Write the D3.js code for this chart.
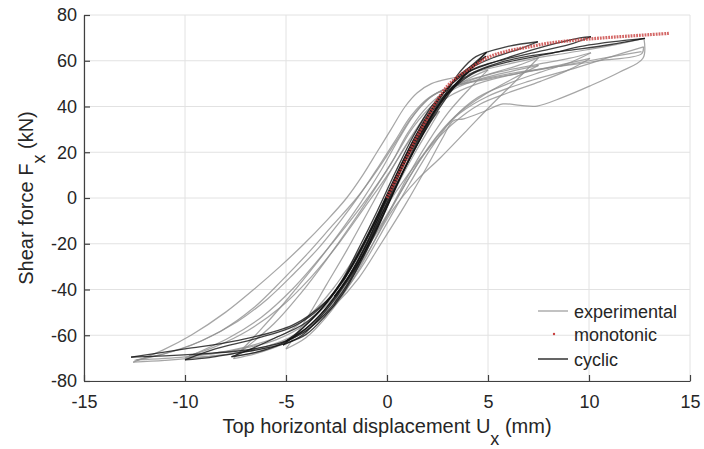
<!DOCTYPE html>
<meta charset="utf-8">
<style>
body{margin:0;background:#fff;}
text{font-family:"Liberation Sans",Arial,sans-serif;fill:#262626;}
.grid line{stroke:#e2e2e2;stroke-width:1;}
.axis path,.axis line{stroke:#404040;stroke-width:1.2;}
.axis text{font-size:18px;fill:#262626;}
.exp{fill:none;stroke:#909090;stroke-width:1.25;stroke-opacity:0.8;}
.cyc{fill:none;stroke:#111;stroke-width:1.3;stroke-opacity:0.8;}
.mono{fill:none;stroke:#c8403f;stroke-width:3.2;stroke-dasharray:1.8,1;stroke-opacity:0.8;}
</style>
<body>
<script src="https://cdn.jsdelivr.net/npm/d3@7"></script>
<script>

var xTicks=[-15,-10,-5,0,5,10,15];
var yTicks=[-80,-60,-40,-20,0,20,40,60,80];

// experimental loops (grey), [U mm, F kN]
var exp12Up=[[-12.57,-71.8],[-11,-71],[-9,-69.5],[-7,-67],[-5.2,-62.5],[-3.8,-56],[-2.6,-47],[-1.4,-35],[-0.3,-20],[0.9,-3],[2,14],[2.8,27],[3.27,33.7],[3.8,34.6],[4.8,37.8],[5.74,41.1],[6.6,40.5],[7.43,40.2],[8.7,44],[10.05,49],[11.5,55],[12.67,61.1],[12.72,69.8]];
var exp12Down=[[12.72,69.8],[11,66.5],[9,63.5],[7,60.5],[5,56.5],[3.5,53],[2.2,50],[1.5,46],[0.9,40],[0.2,30],[-0.5,20],[-1.2,10],[-2,0],[-3,-10],[-4.1,-20],[-5.3,-30],[-6.6,-40],[-8,-50],[-9.7,-60],[-11.1,-66.5],[-12.57,-71.8]];
var exp12bUp=[[-12.4,-70.8],[-10,-69.5],[-7.5,-66.5],[-5.5,-62],[-4,-55],[-2.8,-45],[-1.7,-32],[-0.6,-16],[0.5,0],[1.6,16],[2.6,28],[3.6,37],[5,44.5],[7,51],[9,56],[11,61.5],[12.7,66.1]];
var exp12bDown=[[12.7,66.1],[12.6,63],[10.5,60],[8.5,57.5],[6.5,55],[4.5,51.5],[3,48],[2,43],[1.2,35],[0.4,24],[-0.5,12],[-1.5,0],[-2.7,-12],[-3.9,-24],[-5.2,-36],[-6.6,-48],[-8.2,-58],[-10.2,-66],[-12.4,-70.8]];
var exp12cDown=[[12.6,64],[10,60],[7.5,56],[5,52],[3.2,48.5],[2.1,44],[1.2,36],[0.4,25],[-0.4,14],[-1.3,2],[-2.3,-10],[-3.4,-22],[-4.6,-33],[-5.9,-44],[-7.4,-54],[-9.2,-62.5],[-11,-68],[-12.5,-71]];
var exp10Up=[[-10,-70],[-8,-68.5],[-6,-65.5],[-4.5,-60.5],[-3.3,-53],[-2.2,-42],[-1.1,-28],[0,-11],[1.1,6],[2.2,22],[3.3,35],[4.5,44],[6,50],[7.6,55],[9,59],[10.1,63.5]];
var exp10Down=[[10.1,63.5],[9,61],[7.5,58.5],[5.5,55],[4,51],[2.8,46],[1.8,38],[1,28],[0.2,15],[-0.8,2],[-2,-12],[-3.3,-26],[-4.7,-40],[-6.2,-52],[-7.8,-61],[-10,-70]];
var exp10bUp=[[-9.8,-69],[-8,-67],[-6.5,-64],[-5,-59],[-3.8,-51],[-2.7,-40],[-1.6,-26],[-0.5,-10],[0.7,6],[1.9,20],[3.2,32],[4.6,41],[6,46],[7.6,51],[9,56],[10.05,61]];
var exp10bDown=[[10.05,61],[8.5,58],[6.5,54.5],[4.5,50],[3,44],[2,36],[1.1,25],[0.1,11],[-1.1,-4],[-2.4,-20],[-3.8,-35],[-5.3,-48],[-6.9,-58],[-8.5,-65],[-9.8,-69]];
var exp7Up=[[-7.6,-70.2],[-6.5,-68],[-5.2,-64],[-4,-57.5],[-2.9,-48],[-1.9,-37],[-0.9,-23],[0.3,-5],[1.5,8],[2.62,17.4],[4,30],[5.2,41],[6.42,51.6],[7.5,61.3]];
var exp7Down=[[7.5,61.3],[6.5,58],[5,54],[3.5,50],[2.3,45],[1.4,37],[0.6,26],[-0.3,12],[-1.3,-2],[-2.5,-17],[-3.8,-32],[-5.1,-46],[-6.3,-58],[-7.6,-70.2]];
var exp7bUp=[[-7.5,-69],[-6,-66.5],[-4.6,-61],[-3.4,-52],[-2.3,-40],[-1.2,-25],[0,-8],[1.1,9],[2.2,24],[3.4,36],[4.8,45],[6.2,52],[7.5,58]];
var exp7bDown=[[7.5,58],[6.2,55.5],[4.8,52.5],[3.4,48],[2.3,41],[1.3,31],[0.4,18],[-0.6,4],[-1.8,-12],[-3,-27],[-4.3,-42],[-5.6,-55],[-7.5,-69]];
var exp5Up=[[-5,-66],[-4,-61],[-3,-52],[-2,-40],[-1,-25],[0,-8],[1,9],[2,24],[3,37],[4,47],[5,56]];
var exp5Down=[[5,56],[4,52],[3,46],[2,37],[1,24],[0,9],[-1,-7],[-2,-23],[-3,-38],[-4,-53],[-5,-66]];
var exp2Up=[[-2.6,-46],[-1.8,-36],[-1,-23],[-0.2,-8],[0.6,7],[1.4,20],[2,29],[2.6,38]];
var exp2Down=[[2.6,38],[1.8,30],[1,19],[0.2,5],[-0.6,-10],[-1.4,-24],[-2,-34],[-2.6,-46]];

// cyclic model loops (black)
var cyc2Up=[[-2.6,-43],[-1.8,-33],[-1,-20],[-0.2,-4],[0.6,11],[1.4,24],[2,33],[2.5,40]];
var cyc2Down=[[2.5,40],[1.7,29],[0.9,16],[0.1,1],[-0.7,-14],[-1.5,-28],[-2.1,-37],[-2.6,-43]];
var cyc5Up=[[-5.15,-64.3],[-4.2,-60],[-3.3,-52],[-2.4,-42],[-1.5,-30],[-0.6,-15],[0.2,0],[1,15],[1.8,28],[2.5,38],[3.2,47],[4,55],[4.93,63.7]];
var cyc5Down=[[4.93,63.7],[4.2,58],[3.5,53],[2.7,45],[1.8,33],[0.9,18],[0,1],[-0.8,-14],[-1.7,-29],[-2.6,-41],[-3.5,-51],[-4.3,-58],[-5.15,-64.3]];
var cyc5bUp=[[-5,-62.5],[-4,-57],[-3,-48],[-2,-36],[-1.1,-22],[-0.2,-6],[0.7,10],[1.6,25],[2.5,39],[3.3,49],[4.1,56],[4.9,62]];
var cyc5bDown=[[4.9,62],[4,56.5],[3.1,49],[2.2,38],[1.3,24],[0.4,8],[-0.5,-9],[-1.4,-25],[-2.3,-38],[-3.3,-49],[-4.2,-57],[-5,-62.5]];
var cyc7Up=[[-7.7,-69.4],[-6.5,-67.5],[-5.3,-64],[-4.3,-59],[-3.3,-51],[-2.4,-41],[-1.4,-28],[-0.4,-11],[0.5,6],[1.4,22],[2.3,37],[3,47],[3.6,55],[4.4,61.8],[5.9,66.1],[7.47,68.3]];
var cyc7Down=[[7.47,68.3],[6.5,65],[5.3,61.5],[4.2,57],[3.2,50],[2.3,40],[1.4,27],[0.5,11],[-0.4,-6],[-1.3,-22],[-2.2,-36],[-3.1,-47],[-4.1,-55],[-5.5,-61],[-6.6,-65.5],[-7.7,-69.4]];
var cyc10Up=[[-10,-70.8],[-8.8,-69.8],[-7.6,-68],[-6.2,-66],[-5,-63.5],[-4,-59.6],[-3.1,-52],[-2.2,-42],[-1.3,-28],[-0.4,-12],[0.5,6],[1.4,23],[2.3,37],[3.2,48],[4.2,56],[5.5,60],[7.5,65.5],[9.55,70],[10.1,70.5]];
var cyc10Down=[[10.1,70.5],[9,67],[7.5,64],[6,61],[5,58.5],[4,55],[3.1,49],[2.2,40],[1.3,27],[0.4,11],[-0.5,-6],[-1.4,-22],[-2.3,-37],[-3.3,-48],[-4.6,-56],[-6.5,-61.5],[-8.5,-66],[-10,-70.8]];
var cyc12Up=[[-12.67,-69.6],[-11,-69],[-9,-68],[-7.5,-67],[-6,-65],[-5,-62.5],[-4,-58],[-3.1,-51],[-2.2,-41],[-1.3,-27],[-0.4,-10],[0.5,8],[1.4,25],[2.4,39],[3.4,49],[4.5,55.5],[6,59.5],[8,63],[10,66.9],[12.77,69.8]];
var cyc12Down=[[12.77,69.8],[11,67],[9,64.5],[7,62],[5.5,59],[4.3,55],[3.3,49],[2.4,40],[1.5,28],[0.6,12],[-0.3,-5],[-1.2,-21],[-2.1,-35],[-3,-45],[-4.65,-55.5],[-7.5,-62.5],[-10,-66],[-12.67,-69.6]];

// monotonic curve (red dots)
var monoU=[0,0.5,1,1.5,2,2.5,3,3.5,4,5,6,7,8,9,10,11,12,13,14];
var monoF=[0,9,18,27,35,43,49,53,56,61.5,64.3,66,67.7,68.7,69.5,70.2,70.8,71.4,72];

var legendLabels=["experimental","monotonic","cyclic"];

var experimental=[exp12Up,exp12Down,exp12bUp,exp12bDown,exp12cDown,exp10Up,exp10Down,exp10bUp,exp10bDown,
	exp7Up,exp7Down,exp7bUp,exp7bDown,exp5Up,exp5Down,exp2Up,exp2Down];
var cyclic=[cyc2Up,cyc2Down,cyc5Up,cyc5Down,cyc5bUp,cyc5bDown,cyc7Up,cyc7Down,cyc10Up,cyc10Down,cyc12Up,cyc12Down];
var monotonic=monoU.map((u,i)=>[u,monoF[i]]);

var W=704,H=449;
var svg=d3.select("body").append("svg").attr("width",W).attr("height",H);

var x=d3.scaleLinear().domain([-15,15]).range([84,690]);
var y=d3.scaleLinear().domain([-80,80]).range([381,15]);

var grid=svg.append("g").attr("class","grid");
grid.selectAll(".gx").data(xTicks).enter().append("line")
	.attr("x1",d=>x(d)).attr("x2",d=>x(d)).attr("y1",y(-80)).attr("y2",y(80));
grid.selectAll(".gy").data(yTicks).enter().append("line")
	.attr("y1",d=>y(d)).attr("y2",d=>y(d)).attr("x1",x(-15)).attr("x2",x(15));

var line=d3.line().x(d=>x(d[0])).y(d=>y(d[1])).curve(d3.curveCatmullRom.alpha(0.5));

svg.append("g").selectAll("path").data(experimental).enter().append("path")
	.attr("class","exp").attr("d",line);
svg.append("g").selectAll("path").data(cyclic).enter().append("path")
	.attr("class","cyc").attr("d",line);
svg.append("path").datum(monotonic).attr("class","mono").attr("d",line);

var fmt=d=>String(d);  // plain hyphen minus, like the original
svg.append("g").attr("class","axis").attr("transform","translate(0,"+y(-80)+")")
	.call(d3.axisBottom(x).tickValues(xTicks).tickFormat(fmt).tickSizeInner(-6).tickSizeOuter(0).tickPadding(14));
svg.append("g").attr("class","axis").attr("transform","translate("+x(-15)+",0)")
	.call(d3.axisLeft(y).tickValues(yTicks).tickFormat(fmt).tickSizeInner(-6).tickSizeOuter(0).tickPadding(7));
svg.selectAll(".axis .domain").attr("stroke","#404040");
svg.selectAll(".axis text").attr("fill","#262626");

// axis titles
var xl=svg.append("text").attr("x",387).attr("y",433).attr("text-anchor","middle").style("font-size","20px");
xl.append("tspan").text("Top horizontal displacement U");
xl.append("tspan").attr("dy",12).style("font-size","18px").text("x");
xl.append("tspan").attr("dy",-12).text(" (mm)");

var yl=svg.append("text").attr("transform","translate(33,198) rotate(-90)").attr("text-anchor","middle").style("font-size","20px");
yl.append("tspan").text("Shear force F");
yl.append("tspan").attr("dy",12).style("font-size","18px").text("x");
yl.append("tspan").attr("dy",-12).text(" (kN)");

// legend
var lg=svg.append("g").attr("transform","translate(538,0)");
var rows=[311,334,359];
lg.append("line").attr("x1",0).attr("x2",30).attr("y1",rows[0]).attr("y2",rows[0])
	.attr("stroke","#909090").attr("stroke-width",1.1);
lg.append("circle").attr("cx",16).attr("cy",rows[1]).attr("r",1.2).attr("fill","#c8403f");
lg.append("line").attr("x1",0).attr("x2",30).attr("y1",rows[2]).attr("y2",rows[2])
	.attr("stroke","#111").attr("stroke-width",1.3);
lg.selectAll(".lt").data(legendLabels).enter().append("text")
	.attr("x",36).attr("y",(d,i)=>rows[i]+7).style("font-size","18px").text(d=>d);

</script>
</body>
</html>
